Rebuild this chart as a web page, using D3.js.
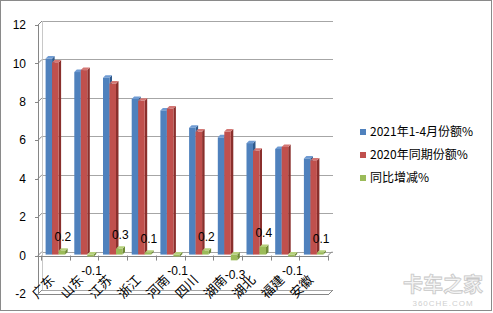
<!DOCTYPE html>
<html><head><meta charset="utf-8">
<script src="https://cdn.jsdelivr.net/npm/d3@7"></script>
<style>body{margin:0;background:#fff}svg{display:block}</style>
</head><body>
<svg id="c" width="493" height="313"></svg>
<script>
const categories = ["广东","山东","江苏","浙江","河南","四川","湖南","湖北","福建","安徽"];
const share2021 = [10.2, 9.5, 9.2, 8.1, 7.5, 6.6, 6.1, 5.8, 5.5, 5.0];
const share2020 = [10.0, 9.6, 8.9, 8.0, 7.6, 6.4, 6.4, 5.4, 5.6, 4.9];
const change = [0.2, -0.1, 0.3, 0.1, -0.1, 0.2, -0.3, 0.4, -0.1, 0.1];
const seriesNames = ["2021年1-4月份额%", "2020年同期份额%", "同比增减%"];
const yTicks = [-2, 0, 2, 4, 6, 8, 10, 12];

const colors = ["#4F81BD", "#C0504D", "#9BBB59"];
const sideCols = ["#2f5a8c", "#8a2f2c", "#6e8a36"];
const topCols = ["#6f9bd3", "#d47774", "#b5d07a"];

const svg = d3.select("#c");
const cjk = "'Noto Sans CJK SC', sans-serif";
const lat = "'Liberation Sans', Arial, sans-serif";

// outer border
svg.append("rect").attr("x", 0.5).attr("y", 0.5).attr("width", 491).attr("height", 310)
  .attr("fill", "#fff").attr("stroke", "#8a8a8a");

const y = d3.scaleLinear().domain([-2, 12]).range([294, 25]);
const x = d3.scaleBand().domain(categories).range([41, 328]).padding(0);
const sub = d3.scaleBand().domain([0, 1, 2]).range([4.6, 24.1]).padding(0);

const wallDx = 4, wallDy = -4, wallRight = 333;
const axisX = 38;

// back-wall gridlines
svg.append("g").selectAll("line").data(yTicks).join("line")
  .attr("x1", axisX + wallDx).attr("x2", wallRight)
  .attr("y1", d => Math.round(y(d) + wallDy) + 0.5).attr("y2", d => Math.round(y(d) + wallDy) + 0.5)
  .attr("stroke", "#a6a6a6").attr("stroke-width", 1);

// left wall edge
svg.append("line").attr("x1", axisX + wallDx + 0.5).attr("x2", axisX + wallDx + 0.5)
  .attr("y1", y(12) + wallDy).attr("y2", y(-2) + wallDy).attr("stroke", "#c8c8c8");

// y axis front line
const ax = svg.append("g").attr("stroke", "#868686").attr("fill", "none");
ax.append("line").attr("x1", axisX + 0.5).attr("x2", axisX + 0.5)
  .attr("y1", y(12)).attr("y2", y(-2));
yTicks.forEach(t => {
  ax.append("line").attr("x1", axisX - 3).attr("x2", axisX).attr("y1", Math.round(y(t)) + 0.5).attr("y2", Math.round(y(t)) + 0.5);
  ax.append("line").attr("x1", axisX).attr("x2", axisX + wallDx).attr("y1", y(t)).attr("y2", y(t) + wallDy);
});
// floor front edge at -2
ax.append("line").attr("x1", axisX).attr("x2", 329).attr("y1", Math.round(y(-2)) + 0.5).attr("y2", Math.round(y(-2)) + 0.5);
ax.append("line").attr("x1", 329).attr("x2", 329 + wallDx).attr("y1", y(-2)).attr("y2", y(-2) + wallDy);

// y tick labels
svg.append("g").selectAll("text").data(yTicks).join("text")
  .attr("x", 26).attr("y", d => y(d)).attr("dy", "0.35em")
  .attr("text-anchor", "end").attr("font-family", lat).attr("font-size", 12).attr("fill", "#000")
  .text(d => d);

// category axis at 0
const cax = svg.append("g").attr("stroke", "#868686").attr("fill", "none");
cax.append("line").attr("x1", axisX).attr("x2", 328).attr("y1", Math.round(y(0)) + 0.5).attr("y2", Math.round(y(0)) + 0.5);
cax.append("line").attr("x1", 328).attr("x2", 328 + wallDx).attr("y1", y(0)).attr("y2", y(0) + wallDy);
const bounds = categories.map(c => x(c)).concat([x.range()[1]]);
cax.selectAll("line.t").data(bounds).join("line").attr("class", "t")
  .attr("x1", d => Math.round(d) + 0.5).attr("x2", d => Math.round(d) + 0.5)
  .attr("y1", y(0)).attr("y2", y(0) + 5);

// bars (3D)
const data = [share2021, share2020, change];
const fdx = 0, fdy = -1;
const ddx = 2.5, ddy = -2.5;
const bw = sub.bandwidth();
const barG = svg.append("g");
categories.forEach((c, i) => {
  data.forEach((arr, s) => {
    const v = arr[i];
    const x0 = x(c) + sub(s) + fdx;
    const x1 = x0 + bw;
    const yTop = Math.min(y(v), y(0)) + fdy;
    const yBot = Math.max(y(v), y(0)) + fdy;
    const g = barG.append("g");
    g.append("path").attr("d", `M${x1},${yTop}L${x1 + ddx},${yTop + ddy}L${x1 + ddx},${yBot + ddy}L${x1},${yBot}Z`)
      .attr("fill", sideCols[s]);
    g.append("path").attr("d", `M${x0},${yTop}L${x0 + ddx},${yTop + ddy}L${x1 + ddx},${yTop + ddy}L${x1},${yTop}Z`)
      .attr("fill", topCols[s]);
    g.append("rect").attr("x", x0).attr("y", yTop).attr("width", bw).attr("height", Math.max(0.8, yBot - yTop))
      .attr("fill", colors[s]);
  });
});

// category labels
svg.append("g").selectAll("text").data(categories).join("text")
  .attr("transform", d => `translate(${x(d) + x.bandwidth() / 2 - 3},${y(0) + 22}) rotate(-45)`)
  .attr("text-anchor", "end").attr("dy", "0.35em")
  .attr("font-family", cjk).attr("font-size", 13).attr("fill", "#000")
  .text(d => d);

// data labels for change
svg.append("g").selectAll("text").data(change).join("text")
  .attr("x", (d, i) => x(categories[i]) + sub(2) + bw / 2 + 1)
  .attr("y", d => y(d) + (d >= 0 ? -15 : 13))
  .attr("dy", "0.35em").attr("text-anchor", "middle")
  .attr("font-family", lat).attr("font-size", 12).attr("fill", "#000")
  .text(d => d);

// legend
const lg = svg.append("g");
seriesNames.forEach((n, i) => {
  const ly = 132 + i * 23;
  lg.append("rect").attr("x", 360).attr("y", ly - 3).attr("width", 6).attr("height", 6).attr("fill", colors[i]);
  lg.append("text").attr("x", 370).attr("y", ly).attr("dy", "0.35em")
    .attr("font-family", cjk).attr("font-size", 12).attr("fill", "#000").text(n);
});

// watermark
const wm = svg.append("g").attr("font-family", cjk).attr("text-anchor", "middle");
wm.append("text").attr("x", 443).attr("y", 292).attr("font-size", 20).attr("font-weight", "bold")
  .attr("fill", "#f4f4f4").attr("stroke", "#c8c8c8").attr("stroke-width", 0.8).text("卡车之家");
wm.append("text").attr("x", 443).attr("y", 306).attr("font-size", 8).attr("font-family", lat)
  .attr("letter-spacing", 1).attr("fill", "#cfcfcf").text("360CHE.COM");
</script>
</body></html>
